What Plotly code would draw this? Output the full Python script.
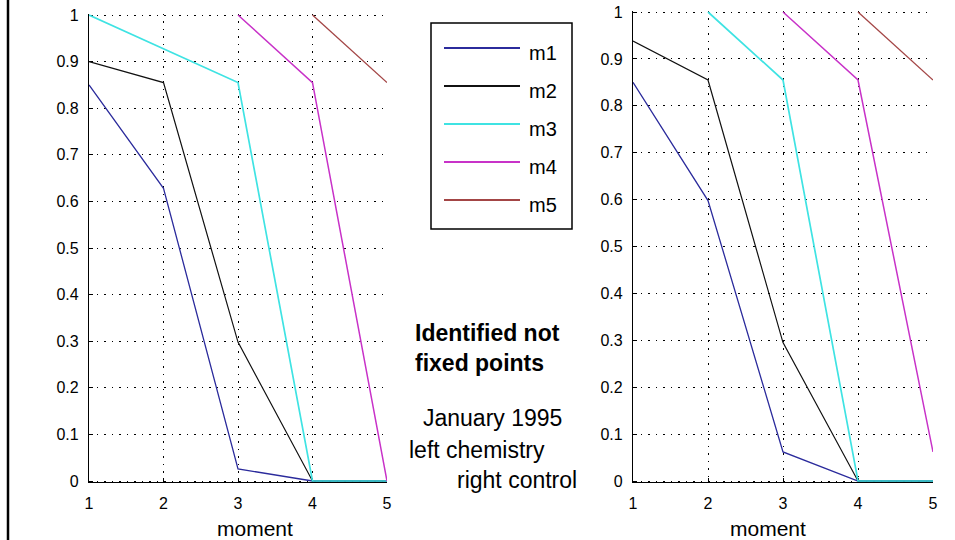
import plotly.graph_objects as go

W, H = 955, 540

# ---- data ----
moments = [1, 2, 3, 4, 5]
series_names = ["m1", "m2", "m3", "m4", "m5"]
colors = ["#2b2b9c", "#111111", "#3fe3e3", "#c832c8", "#a34545"]
widths = [1.3, 1.2, 1.7, 1.5, 1.3]

left_m1 = [0.85, 0.628, 0.026, 0.0, 0.0]
left_m2 = [0.90, 0.855, 0.298, 0.0, 0.0]
left_m3 = [1.00, 0.928, 0.855, 0.0, 0.0]
left_m4 = [None, None, 1.00, 0.855, 0.0]
left_m5 = [None, None, None, 1.00, 0.855]

right_m1 = [0.85, 0.598, 0.062, 0.0, 0.0]
right_m2 = [0.938, 0.855, 0.295, 0.0, 0.0]
right_m3 = [None, 1.00, 0.855, 0.0, 0.0]
right_m4 = [None, None, 1.00, 0.855, 0.062]
right_m5 = [None, None, None, 1.00, 0.855]

left_series = [left_m1, left_m2, left_m3, left_m4, left_m5]
right_series = [right_m1, right_m2, right_m3, right_m4, right_m5]

x_ticks = [1, 2, 3, 4, 5]
y_ticks = [0, 0.1, 0.2, 0.3, 0.4, 0.5, 0.6, 0.7, 0.8, 0.9, 1]
y_ticktext = ["0", "0.1", "0.2", "0.3", "0.4", "0.5", "0.6", "0.7", "0.8", "0.9", "1"]

FONT = "Liberation Sans, Arial, Helvetica, sans-serif"

fig = go.Figure()
for name, col, w, ys in zip(series_names, colors, widths, left_series):
    fig.add_trace(go.Scatter(x=moments, y=ys, mode="lines", name=name,
                             line=dict(color=col, width=w), xaxis="x", yaxis="y",
                             showlegend=False, connectgaps=False))
for name, col, w, ys in zip(series_names, colors, widths, right_series):
    fig.add_trace(go.Scatter(x=moments, y=ys, mode="lines", name=name,
                             line=dict(color=col, width=w), xaxis="x2", yaxis="y2",
                             showlegend=False, connectgaps=False))

pad = 0.003


def ydomain(px0, px1):
    unit = px0 - px1
    bottom = px0 + pad * unit
    top = px1 - pad * unit
    return [1 - bottom / H, 1 - top / H]


common_x = dict(range=[1, 5], tickvals=x_ticks, showgrid=True, gridcolor="#000000",
                griddash="1.5px,6px", gridwidth=1, showline=True, linecolor="#000000",
                linewidth=1.2, ticks="inside", ticklen=4, tickcolor="#000000",
                tickfont=dict(family=FONT, size=16, color="#000"), zeroline=False,
                layer="below traces", automargin=False, ticklabelstandoff=6, fixedrange=True)
common_y = dict(range=[-pad, 1 + pad], tickvals=y_ticks, ticktext=y_ticktext, showgrid=True,
                gridcolor="#000000", griddash="1.5px,6px", gridwidth=1, showline=True,
                linecolor="#000000", linewidth=1.2, ticks="inside", ticklen=4,
                tickcolor="#000000", tickfont=dict(family=FONT, size=16, color="#000"),
                zeroline=False, layer="below traces", automargin=False,
                ticklabelstandoff=6, fixedrange=True)

fig.update_layout(
    width=W, height=H,
    margin=dict(l=0, r=0, t=0, b=0),
    paper_bgcolor="white", plot_bgcolor="white",
    xaxis=dict(domain=[89 / W, 387 / W], anchor="y", **common_x),
    yaxis=dict(domain=ydomain(481, 15), anchor="x", **common_y),
    xaxis2=dict(domain=[633 / W, 933 / W], anchor="y2", **common_x),
    yaxis2=dict(domain=ydomain(481, 12), anchor="x2", **common_y),
    showlegend=False,
)

shapes = []
# left frame border
shapes.append(dict(type="line", xref="paper", yref="paper", x0=8 / W, x1=8 / W, y0=0, y1=1,
                   line=dict(color="#000", width=2.5)))
# manual legend box
shapes.append(dict(type="rect", xref="paper", yref="paper", x0=431 / W, x1=572 / W,
                   y0=1 - 229 / H, y1=1 - 23 / H, line=dict(color="#000", width=1.5),
                   fillcolor="white", layer="below"))
legend_rows = [48, 86, 124, 162, 200]
annotations = []
for name, col, ry in zip(series_names, colors, legend_rows):
    shapes.append(dict(type="line", xref="paper", yref="paper", x0=444 / W, x1=520 / W,
                       y0=1 - ry / H, y1=1 - ry / H, line=dict(color=col, width=2)))
    annotations.append(dict(text=name, xref="paper", yref="paper", x=527 / W, y=1 - (ry + 5) / H,
                            xanchor="left", yanchor="middle", showarrow=False,
                            font=dict(family=FONT, size=20, color="#000")))

annotations += [
    dict(text="<b>Identified not<br>fixed points</b>", xref="paper", yref="paper",
         x=413 / W, y=1 - 348 / H, xanchor="left", yanchor="middle", align="left",
         showarrow=False, font=dict(family=FONT, size=23, color="#000")),
    dict(text="January 1995", xref="paper", yref="paper", x=421 / W, y=1 - 418 / H,
         xanchor="left", yanchor="middle", showarrow=False,
         font=dict(family=FONT, size=23, color="#000")),
    dict(text="left chemistry", xref="paper", yref="paper", x=407 / W, y=1 - 450 / H,
         xanchor="left", yanchor="middle", showarrow=False,
         font=dict(family=FONT, size=23, color="#000")),
    dict(text="right control", xref="paper", yref="paper", x=455 / W, y=1 - 480 / H,
         xanchor="left", yanchor="middle", showarrow=False,
         font=dict(family=FONT, size=23, color="#000")),
    dict(text="moment", xref="paper", yref="paper", x=255 / W, y=1 - 528 / H,
         xanchor="center", yanchor="middle", showarrow=False,
         font=dict(family=FONT, size=21, color="#000")),
    dict(text="moment", xref="paper", yref="paper", x=768 / W, y=1 - 528 / H,
         xanchor="center", yanchor="middle", showarrow=False,
         font=dict(family=FONT, size=21, color="#000")),
]

fig.update_layout(shapes=shapes, annotations=annotations)
fig.write_html("out.html")
